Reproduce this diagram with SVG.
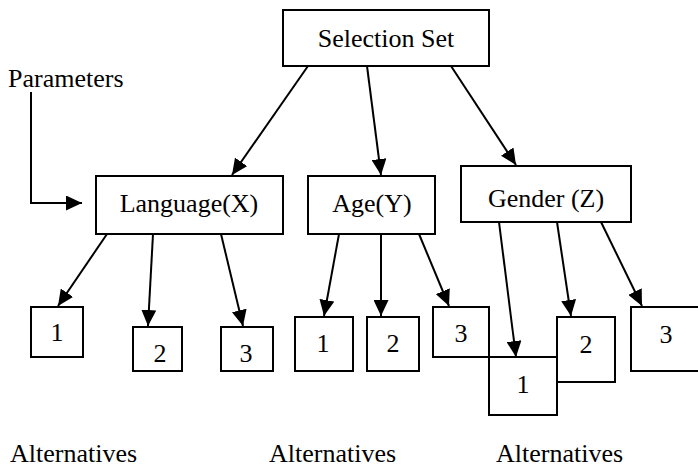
<svg xmlns="http://www.w3.org/2000/svg" width="698" height="468" viewBox="0 0 698 468">
<style>
.box{fill:#fff;stroke:#000;stroke-width:2}
text{font-family:'Liberation Serif','Times New Roman','DejaVu Serif',serif;font-size:26px;fill:#000}
.m{text-anchor:middle}
.c{fill:none;stroke:#000;stroke-width:2;marker-end:url(#ah)}
</style>
<defs>
<marker id="ah" markerUnits="userSpaceOnUse" markerWidth="16" markerHeight="15" viewBox="0 0 16 15" refX="16" refY="7.5" orient="auto">
<path d="M0,0 L16,7.5 L0,15 z" fill="#000"/>
</marker>
</defs>
<rect width="698" height="468" fill="#fff"/>
<g id="connectors">
<polyline class="c" points="31,92 31,203 82,203"/>
<line class="c" x1="308" y1="66" x2="232" y2="175"/>
<line class="c" x1="367" y1="66" x2="381" y2="175"/>
<line class="c" x1="451" y1="66" x2="516" y2="165"/>
<line class="c" x1="107" y1="234" x2="58" y2="306"/>
<line class="c" x1="153" y1="234" x2="148" y2="326"/>
<line class="c" x1="221" y1="234" x2="243" y2="326"/>
<line class="c" x1="339" y1="234" x2="324" y2="316"/>
<line class="c" x1="381" y1="234" x2="381" y2="316"/>
<line class="c" x1="419" y1="234" x2="449" y2="306"/>
<line class="c" x1="499" y1="222" x2="516" y2="357"/>
<line class="c" x1="557" y1="222" x2="571" y2="316"/>
<line class="c" x1="601" y1="222" x2="642" y2="306"/>
</g>
<g font-family="Liberation Serif, Times New Roman, serif" font-size="26">
<g id="parameters"><text x="8" y="87">Parameters</text></g>
<g id="selection-set"><rect class="box" x="283" y="10" width="206" height="56"/><text class="m" x="386" y="47">Selection Set</text></g>
<g id="language"><rect class="box" x="96" y="176" width="187" height="58"/><text class="m" x="189" y="212">Language(X)</text></g>
<g id="age"><rect class="box" x="308" y="176" width="127" height="58"/><text class="m" x="372" y="212">Age(Y)</text></g>
<g id="gender"><rect class="box" x="461" y="166" width="170" height="56"/><text class="m" x="546" y="207">Gender (Z)</text></g>
<g id="lang-1"><rect class="box" x="31" y="307" width="52" height="50"/><text class="m" x="57" y="341">1</text></g>
<g id="lang-2"><rect class="box" x="133" y="327" width="49" height="44"/><text class="m" x="160" y="362">2</text></g>
<g id="lang-3"><rect class="box" x="221" y="327" width="52" height="44"/><text class="m" x="246" y="362">3</text></g>
<g id="age-1"><rect class="box" x="295" y="317" width="58" height="54"/><text class="m" x="323" y="352">1</text></g>
<g id="age-2"><rect class="box" x="367" y="317" width="52" height="54"/><text class="m" x="393" y="352">2</text></g>
<g id="age-3"><rect class="box" x="433" y="307" width="56" height="50"/><text class="m" x="461" y="342">3</text></g>
<g id="gender-1"><rect class="box" x="489" y="357" width="68" height="58"/><text class="m" x="523" y="393">1</text></g>
<g id="gender-2"><rect class="box" x="557" y="317" width="58" height="65"/><text class="m" x="586" y="353">2</text></g>
<g id="gender-3"><rect class="box" x="631" y="307" width="70" height="64"/><text class="m" x="666" y="343">3</text></g>
<g id="alt-1"><text x="10" y="462">Alternatives</text></g>
<g id="alt-2"><text x="269" y="462">Alternatives</text></g>
<g id="alt-3"><text x="496" y="462">Alternatives</text></g>
</g>
</svg>
